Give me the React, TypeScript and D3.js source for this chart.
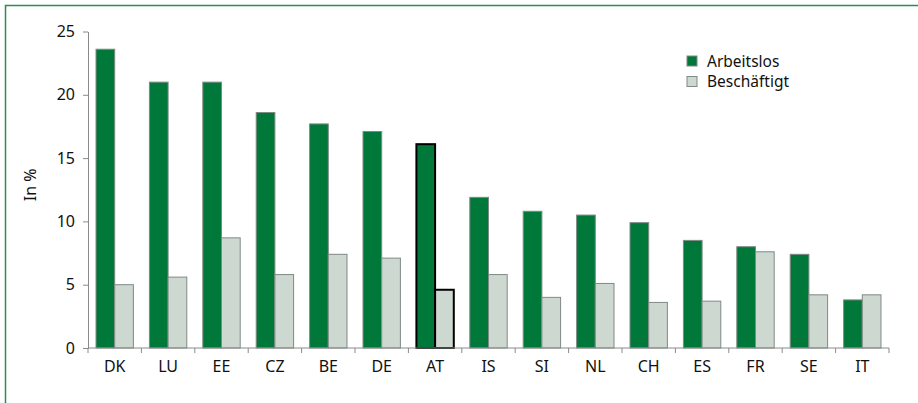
import React, { useEffect, useRef } from "react";
import * as d3 from "d3";

// Arbeitslose vs. Beschäftigte, in %
const countries = ["DK", "LU", "EE", "CZ", "BE", "DE", "AT", "IS", "SI", "NL", "CH", "ES", "FR", "SE", "IT"];
const arbeitslos = [23.6, 21.0, 21.0, 18.6, 17.7, 17.1, 16.1, 11.9, 10.8, 10.5, 9.9, 8.5, 8.0, 7.4, 3.8];
const beschaeftigt = [5.0, 5.6, 8.7, 5.8, 7.4, 7.1, 4.6, 5.8, 4.0, 5.1, 3.6, 3.7, 7.6, 4.2, 4.2];
const yTicks = [0, 5, 10, 15, 20, 25];
const seriesNames = ["Arbeitslos", "Beschäftigt"];
const highlight = "AT";

const GREEN = "#00783a";
const GREY = "#cdd8d0";
const FONT = "'Noto Sans', 'Open Sans', sans-serif";

export default function App() {
  const ref = useRef<SVGSVGElement>(null);

  useEffect(() => {
    const width = 918, height = 403;
    const margin = { top: 31.5, right: 29, bottom: 55, left: 88 };
    const innerW = width - margin.left - margin.right;
    const innerH = height - margin.top - margin.bottom;

    const svg = d3.select(ref.current);
    svg.selectAll("*").remove();

    // frame (left + top)
    svg.append("path")
      .attr("d", `M5.5,${height} V5.5 H${width}`)
      .attr("fill", "none")
      .attr("stroke", "#2f8a50")
      .attr("stroke-width", 1.5);

    const g = svg.append("g").attr("transform", `translate(${margin.left},${margin.top})`);

    const x = d3.scaleBand().domain(countries).range([0, innerW]).paddingInner(0.3).paddingOuter(0.15);
    const x1 = d3.scaleBand().domain(seriesNames).range([0, x.bandwidth()]);
    const y = d3.scaleLinear().domain([0, 25]).range([innerH, 0]);

    const data = countries.map((c, i) => ({ c, vals: [arbeitslos[i], beschaeftigt[i]] }));

    // bars
    const groups = g.selectAll("g.grp").data(data).enter().append("g")
      .attr("class", "grp")
      .attr("transform", d => `translate(${x(d.c)},0)`);

    groups.selectAll("rect")
      .data(d => d.vals.map((v, k) => ({ v, k, c: d.c })))
      .enter().append("rect")
      .attr("x", d => x1(seriesNames[d.k])!)
      .attr("y", d => y(d.v))
      .attr("width", x1.bandwidth())
      .attr("height", d => innerH - y(d.v))
      .attr("fill", d => (d.k === 0 ? GREEN : GREY))
      .attr("stroke", d => (d.c === highlight ? "#000" : "#7f8a84"))
      .attr("stroke-width", d => (d.c === highlight ? 2 : 1));

    // y axis
    const yAxis = g.append("g").call(d3.axisLeft(y).tickValues(yTicks).tickSize(5).tickSizeOuter(0).tickPadding(8));
    yAxis.select(".domain").attr("stroke", "#8a8a8a");
    yAxis.selectAll(".tick line").attr("stroke", "#8a8a8a");
    yAxis.selectAll("text").attr("font-family", FONT).attr("font-size", 16).attr("fill", "#111");

    // x axis: ticks at band boundaries
    const xAxisG = g.append("g").attr("transform", `translate(0,${innerH})`);
    xAxisG.append("line").attr("x1", 0).attr("x2", innerW).attr("stroke", "#8a8a8a");
    const step = x.step();
    d3.range(countries.length + 1).forEach(i => {
      xAxisG.append("line")
        .attr("x1", i * step).attr("x2", i * step)
        .attr("y1", 0).attr("y2", 5)
        .attr("stroke", "#8a8a8a");
    });
    xAxisG.selectAll("text.lbl").data(countries).enter().append("text")
      .attr("class", "lbl")
      .attr("x", d => x(d)! + x.bandwidth() / 2)
      .attr("y", 23.5)
      .attr("text-anchor", "middle")
      .attr("font-family", FONT)
      .attr("font-size", 16)
      .attr("fill", "#111")
      .text(d => d);

    // axis title
    svg.append("text")
      .attr("transform", `translate(36,${margin.top + innerH / 2 - 5}) rotate(-90)`)
      .attr("text-anchor", "middle")
      .attr("font-family", FONT)
      .attr("font-size", 16)
      .attr("fill", "#111")
      .text("In %");

    // legend
    const legend = svg.append("g").attr("transform", "translate(687,56)");
    seriesNames.forEach((name, i) => {
      const row = legend.append("g").attr("transform", `translate(0,${i * 20.5})`);
      row.append("rect").attr("width", 10).attr("height", 10)
        .attr("fill", i === 0 ? GREEN : GREY).attr("stroke", "#7f8a84");
      row.append("text").attr("x", 20).attr("y", 10.5)
        .attr("font-family", FONT).attr("font-size", 15.5).attr("fill", "#111")
        .text(name);
    });
  }, []);

  return (
    <svg ref={ref} width={918} height={403}
      style={{ position: "absolute", left: 0, top: 0, background: "#fff" }} />
  );
}
